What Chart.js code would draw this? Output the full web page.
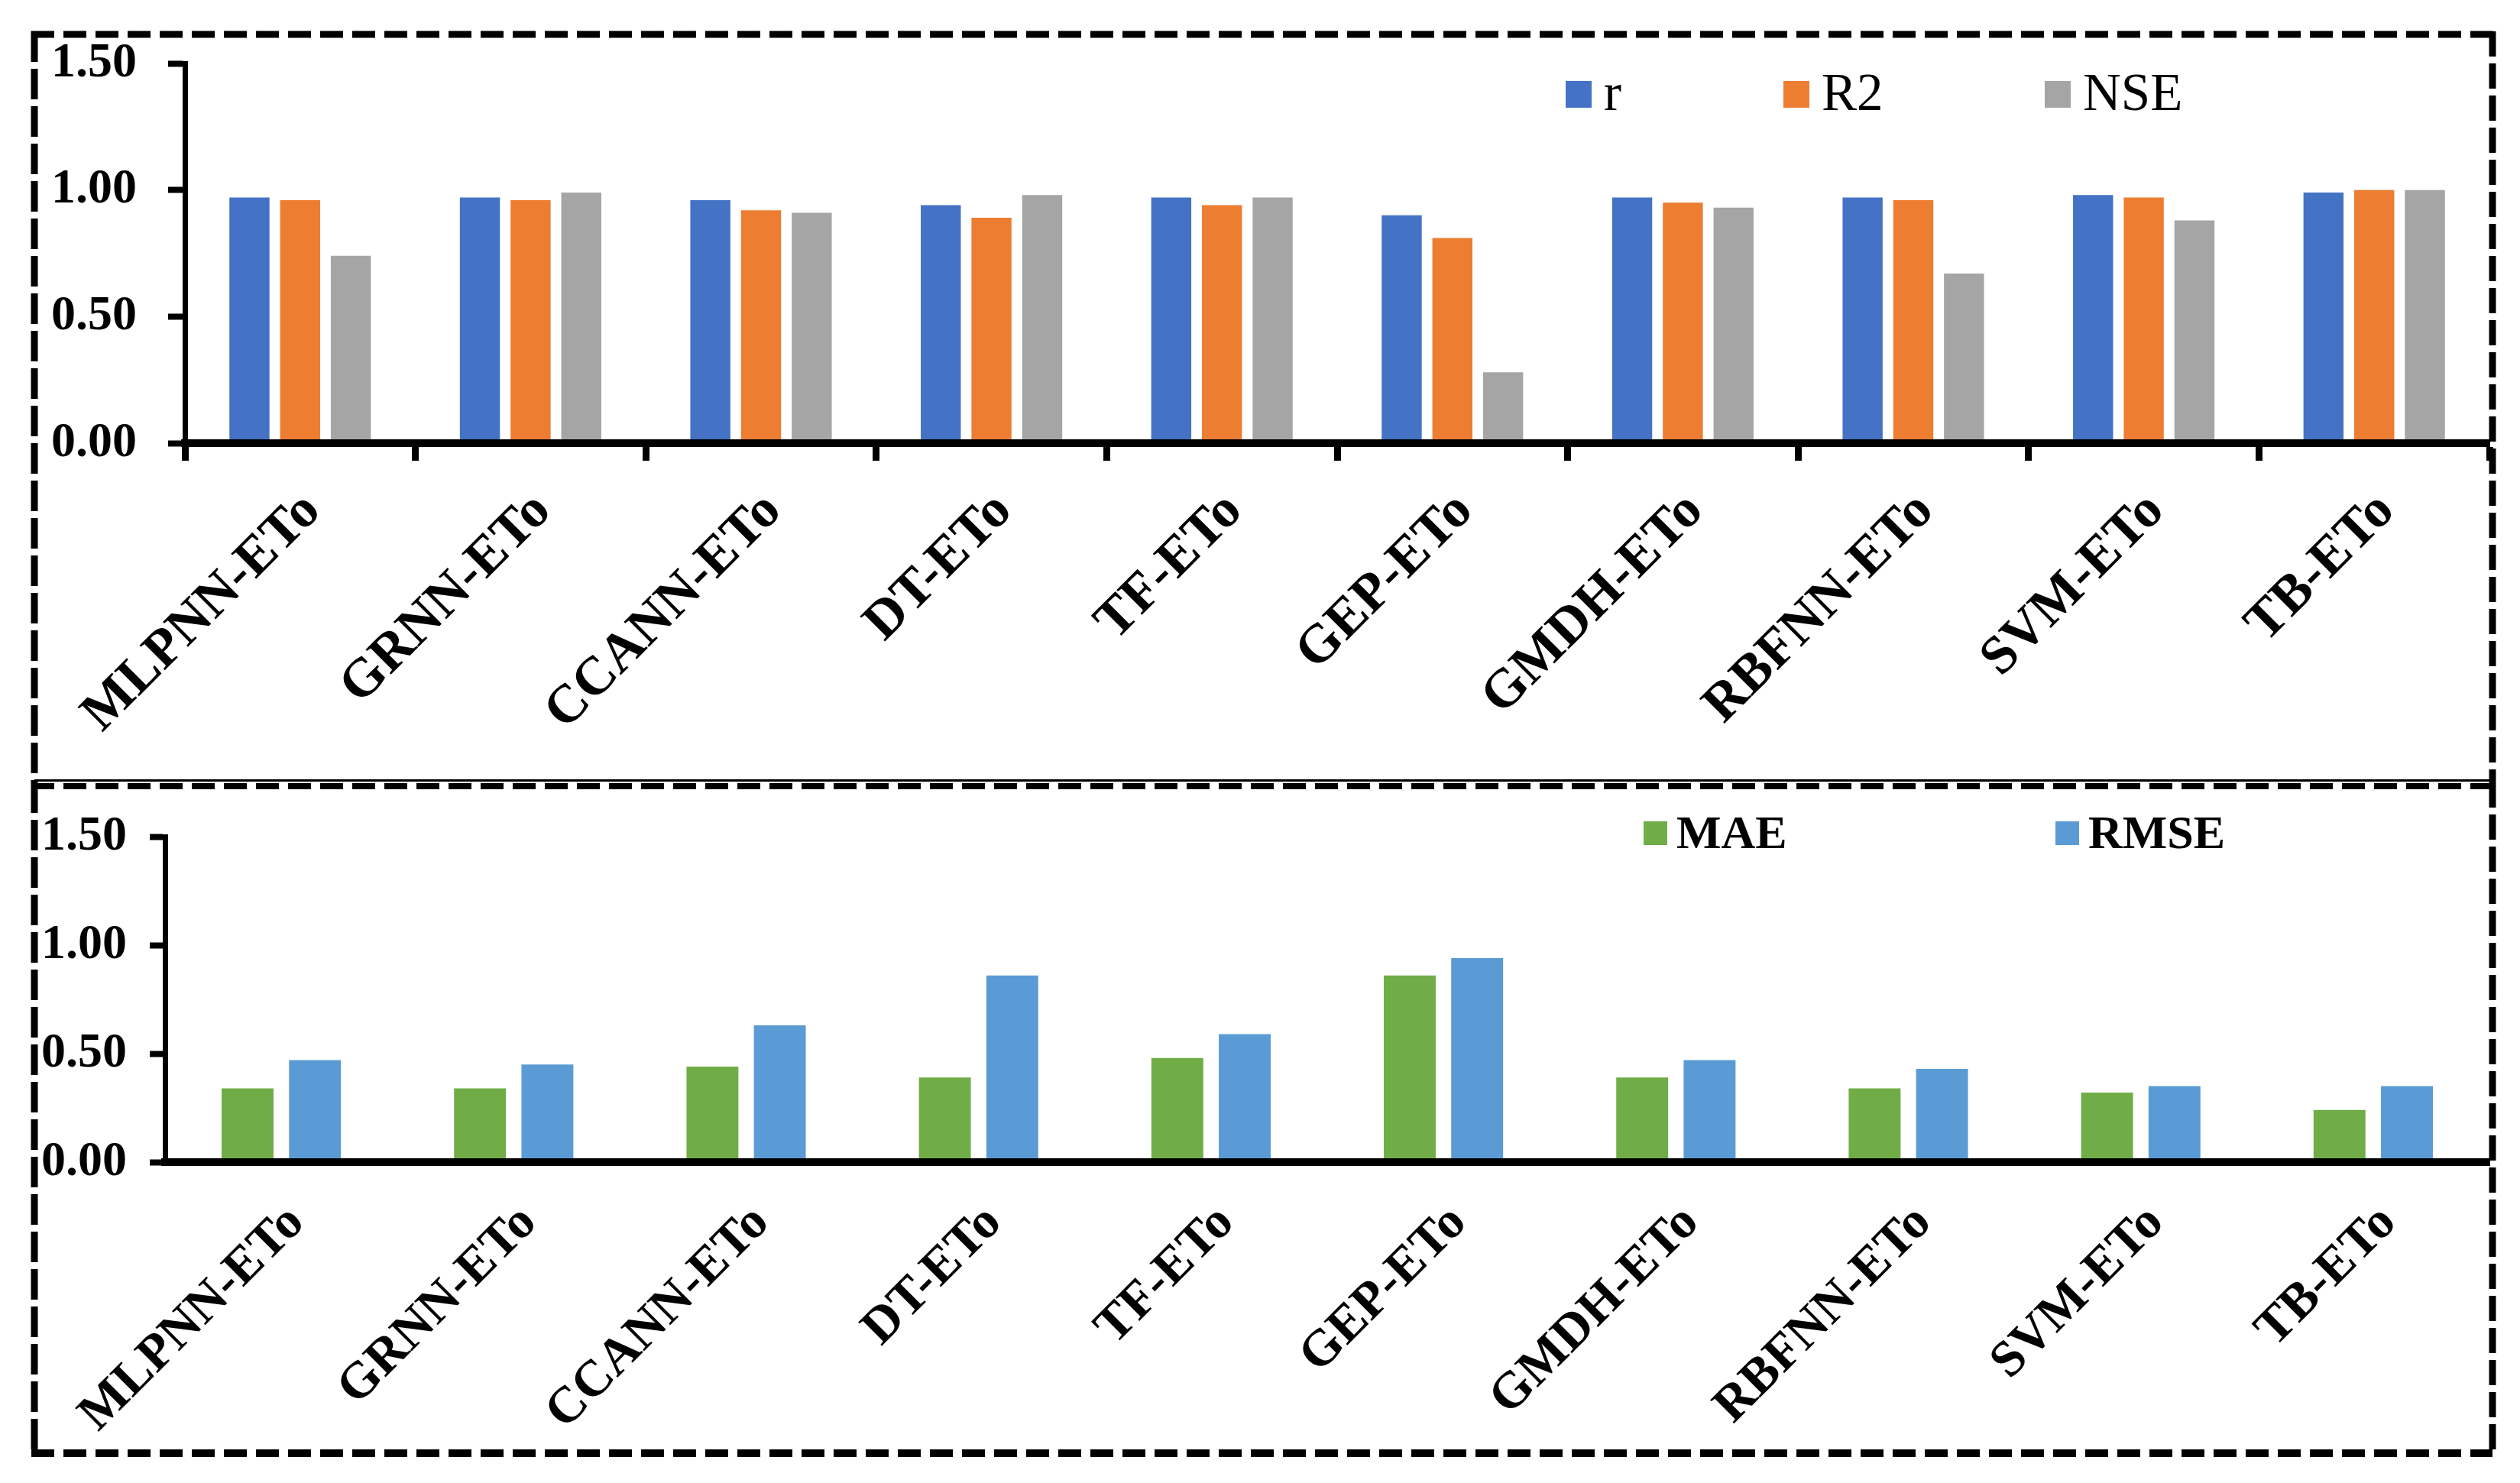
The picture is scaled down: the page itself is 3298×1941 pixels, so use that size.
<!DOCTYPE html>
<html>
<head>
<meta charset="utf-8">
<script src="https://cdn.jsdelivr.net/npm/chart.js@4.4.0/dist/chart.umd.min.js"></script>
<style>
  html, body { margin: 0; padding: 0; background: #fff; }
  body { width: 3298px; height: 1941px; position: relative; overflow: hidden; }
  canvas { position: absolute; left: 0; }
  #topChart { top: 0; }
  #bottomChart { top: 1024px; }
</style>
</head>
<body>
<canvas id="topChart" width="3298" height="1024"></canvas>
<canvas id="bottomChart" width="3298" height="917"></canvas>
<script>
// Data
const models = ['MLPNN-ETo', 'GRNN-ETo', 'CCANN-ETo', 'DT-ETo', 'TF-ETo',
                'GEP-ETo', 'GMDH-ETo', 'RBFNN-ETo', 'SVM-ETo', 'TB-ETo'];
const rValues    = [0.97, 0.97, 0.96, 0.94, 0.97, 0.90, 0.97, 0.97, 0.98, 0.99];
const r2Values   = [0.96, 0.96, 0.92, 0.89, 0.94, 0.81, 0.95, 0.96, 0.97, 1.00];
const nseValues  = [0.74, 0.99, 0.91, 0.98, 0.97, 0.28, 0.93, 0.67, 0.88, 1.00];
const maeValues  = [0.34, 0.34, 0.44, 0.39, 0.48, 0.86, 0.39, 0.34, 0.32, 0.24];
const rmseValues = [0.47, 0.45, 0.63, 0.86, 0.59, 0.94, 0.47, 0.43, 0.35, 0.35];
const yTicks = [0, 0.5, 1.0, 1.5];

const SERIF = "'Liberation Serif', 'Times New Roman', serif";
const W = 3298;

// dashed frame around each panel
const framePlugin = {
    id: 'frame',
    afterDraw(chart, args, opts) {
        const ctx = chart.ctx;
        ctx.save();
        ctx.strokeStyle = '#000';
        opts.lines.forEach(l => {
            ctx.lineWidth = l.width;
            ctx.setLineDash(l.dash || []);
            ctx.beginPath();
            ctx.moveTo(l.x1, l.y1);
            ctx.lineTo(l.x2, l.y2);
            ctx.stroke();
        });
        ctx.restore();
    }
};

// legend drawn inside the plot, like the original
const boxLegend = {
    id: 'boxLegend',
    afterDraw(chart, args, opts) {
        const ctx = chart.ctx;
        ctx.save();
        ctx.font = opts.font;
        ctx.textBaseline = 'alphabetic';
        chart.data.datasets.forEach((ds, i) => {
            const x = opts.xs[i];
            ctx.fillStyle = ds.backgroundColor;
            ctx.fillRect(x, opts.boxTop, opts.boxW, opts.boxH);
            ctx.fillStyle = '#000';
            ctx.fillText(ds.label, x + opts.gap, opts.baseline);
        });
        ctx.restore();
    }
};

function makeChart(id, datasets, cfg) {
    const canvas = document.getElementById(id);
    return new Chart(canvas, {
        type: 'bar',
        data: { labels: models, datasets: datasets },
        plugins: [framePlugin, boxLegend],
        options: {
            responsive: false,
            animation: false,
            devicePixelRatio: 1,
            layout: { padding: { left: 0, top: cfg.top, right: W - cfg.right, bottom: 0 } },
            datasets: { bar: { categoryPercentage: cfg.catPct, barPercentage: cfg.barPct } },
            plugins: {
                legend: { display: false },
                tooltip: { enabled: false },
                frame: { lines: cfg.frame },
                boxLegend: cfg.legend
            },
            scales: {
                x: {
                    grid: {
                        display: cfg.xTicks,
                        drawOnChartArea: false,
                        drawTicks: cfg.xTicks,
                        tickLength: 23,
                        tickWidth: 9,
                        tickColor: '#000'
                    },
                    border: { display: true, color: '#000', width: 10, z: 1 },
                    ticks: {
                        autoSkip: false,
                        minRotation: 45,
                        maxRotation: 45,
                        padding: cfg.xPad,
                        labelOffset: cfg.xOffset,
                        color: '#000',
                        font: { family: SERIF, size: cfg.xFont, weight: 'bold' }
                    },
                    afterFit(scale) {
                        scale.height = canvas.height - cfg.bottom;
                        scale.paddingLeft = 0;
                        scale.paddingRight = 0;
                    }
                },
                y: {
                    min: 0,
                    max: 1.5,
                    grid: {
                        display: true,
                        drawOnChartArea: false,
                        drawTicks: true,
                        tickLength: cfg.yTickLen,
                        tickWidth: 8,
                        tickColor: '#000'
                    },
                    border: { display: true, color: '#000', width: 7, z: 1 },
                    afterBuildTicks(scale) {
                        scale.ticks = yTicks.map(v => ({ value: v }));
                    },
                    ticks: {
                        padding: cfg.yPad,
                        color: '#000',
                        font: { family: SERIF, size: 64, weight: 'bold' },
                        callback: v => Number(v).toFixed(2)
                    },
                    afterFit(scale) {
                        scale.width = cfg.left;
                        scale.paddingTop = 0;
                        scale.paddingBottom = 0;
                    }
                }
            }
        }
    });
}

// Top panel: r, R2, NSE
makeChart('topChart', [
    { label: 'r',   data: rValues,   backgroundColor: '#4472C4' },
    { label: 'R2',  data: r2Values,  backgroundColor: '#ED7D31' },
    { label: 'NSE', data: nseValues, backgroundColor: '#A5A5A5' }
], {
    left: 242, top: 83, right: 3258, bottom: 580,
    catPct: 0.66, barPct: 0.79,
    xTicks: true, xPad: 25, xOffset: 16, xFont: 71,
    yTickLen: 22, yPad: 41,
    legend: {
        font: '69px ' + SERIF,
        xs: [2049, 2334, 2676],
        boxTop: 106, boxW: 34, boxH: 35, gap: 50, baseline: 144
    },
    frame: [
        { x1: 41, y1: 45, x2: 3262, y2: 45, width: 9, dash: [30, 12] },
        { x1: 45, y1: 41, x2: 45, y2: 1024, width: 9, dash: [40, 9] },
        { x1: 3262, y1: 41, x2: 3262, y2: 1024, width: 9, dash: [33, 9] },
        { x1: 45, y1: 1021.5, x2: 3262, y2: 1021.5, width: 3 }
    ]
});

// Bottom panel: MAE, RMSE
makeChart('bottomChart', [
    { label: 'MAE',  data: maeValues,  backgroundColor: '#70AD47' },
    { label: 'RMSE', data: rmseValues, backgroundColor: '#5B9BD5' }
], {
    left: 216, top: 71, right: 3258, bottom: 497,
    catPct: 0.58, barPct: 0.77,
    xTicks: false, xPad: 41, xOffset: 20, xFont: 67,
    yTickLen: 20, yPad: 30,
    legend: {
        font: 'bold 62px ' + SERIF,
        xs: [2151, 2690],
        boxTop: 51, boxW: 31, boxH: 31, gap: 43, baseline: 86
    },
    frame: [
        { x1: 41, y1: 5, x2: 3262, y2: 5, width: 8, dash: [30, 12] },
        { x1: 45, y1: 0, x2: 45, y2: 882, width: 9, dash: [40, 9] },
        { x1: 3262, y1: 0, x2: 3262, y2: 882, width: 9, dash: [33, 9] },
        { x1: 41, y1: 878, x2: 3262, y2: 878, width: 10, dash: [30, 12] }
    ]
});
</script>
</body>
</html>
